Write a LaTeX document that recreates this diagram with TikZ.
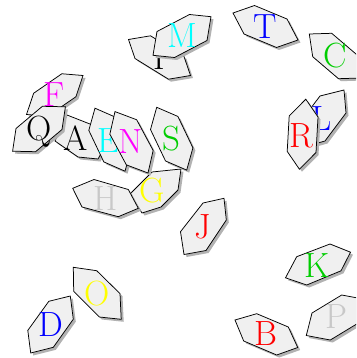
\documentclass[tikz,border=0pt]{standalone}
\usetikzlibrary{shadows}
\definecolor{hexgray}{RGB}{240,240,240}
\definecolor{lettergreen}{RGB}{0,205,0}
\definecolor{lettergray}{RGB}{200,200,200}
\definecolor{lettercyan}{RGB}{0,255,255}
\definecolor{lettermagenta}{RGB}{255,0,255}
\definecolor{letteryellow}{RGB}{255,255,0}
\definecolor{letterred}{RGB}{255,0,0}
\definecolor{letterblue}{RGB}{0,0,255}
\tikzset{
  hexbox/.style={draw=black, line width=0.75pt, line join=miter, fill=hexgray,
    drop shadow={fill=black!30, opacity=1, shadow xshift=2.5pt, shadow yshift=-2.5pt}},
  letter/.style={inner sep=0pt, text height=23.9pt, text depth=0pt,
    font=\fontsize{35}{35}\selectfont}
}
\begin{document}
\begin{tikzpicture}[x=1pt,y=-1pt]
\useasboundingbox (0,0) rectangle (356,358);
\clip (0,0) rectangle (356,358);
% A
\path[hexbox] (67,115) -- (95,126) -- (103,150) -- (98,159) -- (78,157) -- (55,141) -- cycle;
\node[letter,text=black] (A) at (76,139) {A};
% B
\path[hexbox] (235,320) -- (256.7,313.7) -- (288.3,327) -- (297.7,347.5) -- (276.7,355) -- (243.7,341) -- cycle;
\node[letter,text=letterred] (B) at (266.2,334) {B};
% C
\path[hexbox] (309.3,34) -- (331.7,33.3) -- (357.5,55.3) -- (360.9,78) -- (338.5,78.7) -- (312.7,56.7) -- cycle;
\node[letter,text=lettergreen] (C) at (335,56) {C};
% D
\path[hexbox] (27.8,330.4) -- (48.8,301.3) -- (70.3,296) -- (73.3,319.2) -- (53.3,347.3) -- (30.7,353) -- cycle;
\node[letter,text=letterblue] (D) at (50.6,324.7) {D};
% E
\path[hexbox] (125,171.2) -- (131.2,149) -- (116.2,117.5) -- (95,108.2) -- (88.8,130.4) -- (103.8,161.9) -- cycle;
\node[letter,text=lettercyan] (E) at (108.5,141) {E};
% F
\path[hexbox] (83,75.5) -- (75.9,96.75) -- (47.65,116.25) -- (26.5,114.5) -- (33.65,93.25) -- (61.85,73.75) -- cycle;
\node[letter,text=lettermagenta] (F) at (54.5,95) {F};
% G
\path[hexbox] (130,194) -- (152,172) -- (181,169) -- (178,190) -- (161,207) -- (142,213) -- cycle;
\node[letter,text=letteryellow] (G) at (152,191) {G};
% H
\path[hexbox] (72.7,188.3) -- (94,179.5) -- (128.3,189.5) -- (138.3,208.3) -- (118.3,216.7) -- (82,207) -- cycle;
\node[letter,text=lettergray] (H) at (105.5,198.3) {H};
% I
\path[hexbox] (128.5,39.5) -- (150.5,35.8) -- (184,56.5) -- (190.5,75.5) -- (168.5,79.2) -- (135,58.5) -- cycle;
\node[letter,text=black] (I) at (159.5,57.5) {I};
% J
\path[hexbox] (180.5,231.7) -- (203,203) -- (224,198.3) -- (226.3,220) -- (206,250.5) -- (184,254.5) -- cycle;
\node[letter,text=letterred] (J) at (203,226.5) {J};
% K
\path[hexbox] (285.5,277.8) -- (296.7,256.7) -- (330,244) -- (350.5,252.2) -- (341,270.8) -- (306.7,285) -- cycle;
\node[letter,text=lettergreen] (K) at (317.5,266) {K};
% L
\path[hexbox] (320,96) -- (344,90) -- (346,113) -- (325,141) -- (300,148) -- (298,125) -- cycle;
\node[letter,text=letterblue] (L) at (322,119) {L};
% M
\path[hexbox] (157,31.5) -- (189.5,14.5) -- (211,16.7) -- (207,40.5) -- (174.5,57.5) -- (153,55.3) -- cycle;
\node[letter,text=lettercyan] (M) at (182,36) {M};
% N
\path[hexbox] (148,173) -- (153.15,150.45) -- (136.65,119.75) -- (115,111.6) -- (109.85,134.15) -- (126.35,164.85) -- cycle;
\node[letter,text=lettermagenta] (N) at (131,142) {N};
% O
\path[hexbox] (73.3,267.3) -- (96.7,270.7) -- (120,293.6) -- (121.2,319.3) -- (99.3,317) -- (73.7,291.3) -- cycle;
\node[letter,text=letteryellow] (O) at (97.4,293.3) {O};
% P
\path[hexbox] (306.3,335.5) -- (312,313) -- (341.7,295) -- (365.7,299.5) -- (360,322) -- (330.3,340) -- cycle;
\node[letter,text=lettergray] (P) at (336,317) {P};
% Q
\path[hexbox] (65.4,106.8) -- (62,129.5) -- (35.6,151.7) -- (12.6,151.2) -- (16,128.5) -- (42.4,106.3) -- cycle;
\node[letter,text=black] (Q) at (39,129) {Q};
% R
\path[hexbox] (305.8,99.2) -- (318,117) -- (316,152.5) -- (299.4,169.2) -- (287.2,151.4) -- (289.2,115.9) -- cycle;
\node[letter,text=letterred] (R) at (301,136) {R};
% S
\path[hexbox] (186.7,170.1) -- (192.9,147.85) -- (177.9,116.45) -- (156.7,107.3) -- (150.5,129.55) -- (165.5,160.95) -- cycle;
\node[letter,text=lettergreen] (S) at (171.7,139) {S};
% T
\path[hexbox] (233,13) -- (254.5,5.5) -- (287,19) -- (298,40) -- (276.5,47.5) -- (244,34) -- cycle;
\node[letter,text=letterblue] (T) at (265.5,27) {T};
\end{tikzpicture}
\end{document}
